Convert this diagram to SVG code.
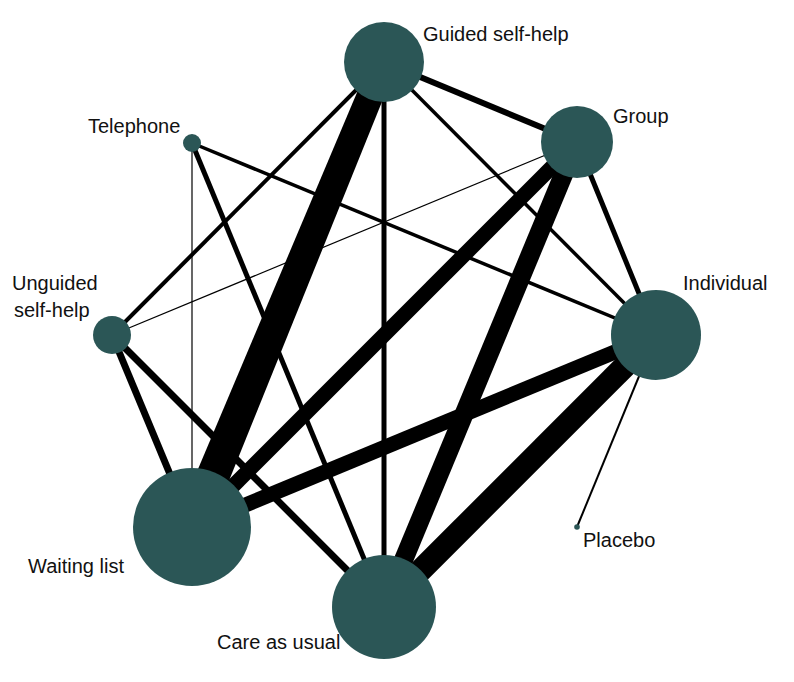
<svg xmlns="http://www.w3.org/2000/svg" width="794" height="682" viewBox="0 0 794 682">
<style>
.e{stroke:#000;stroke-linecap:butt;fill:none}
.n{fill:#2b5656}
.t{font-family:"Liberation Sans",Arial,sans-serif;font-size:20px;fill:#111}
</style>
<rect width="794" height="682" fill="#fff"/>
<g id="connectors">
<polygon points="396,67 372,57 176.3,520.5 207.7,533.5" fill="#000"/>
<line class="e" x1="384" y1="62" x2="384" y2="607" stroke-width="5"/>
<line class="e" x1="384" y1="62" x2="577" y2="142" stroke-width="6"/>
<line class="e" x1="384" y1="62" x2="656" y2="335" stroke-width="3.5"/>
<line class="e" x1="384" y1="62" x2="112" y2="335" stroke-width="4"/>
<line class="e" x1="577" y1="142" x2="192" y2="527" stroke-width="15"/>
<line class="e" x1="577" y1="142" x2="384" y2="607" stroke-width="19"/>
<line class="e" x1="577" y1="142" x2="656" y2="335" stroke-width="5"/>
<line class="e" x1="577" y1="142" x2="112" y2="335" stroke-width="1.2"/>
<line class="e" x1="656" y1="335" x2="192" y2="527" stroke-width="15"/>
<line class="e" x1="656" y1="335" x2="384" y2="607" stroke-width="23"/>
<line class="e" x1="656" y1="335" x2="192" y2="143" stroke-width="3.5"/>
<line class="e" x1="656" y1="335" x2="577" y2="527" stroke-width="2"/>
<line class="e" x1="192" y1="143" x2="192" y2="527" stroke-width="1.2"/>
<line class="e" x1="192" y1="143" x2="384" y2="607" stroke-width="5"/>
<line class="e" x1="112" y1="335" x2="192" y2="527" stroke-width="7"/>
<line class="e" x1="112" y1="335" x2="384" y2="607" stroke-width="7"/>
</g>
<g id="guided-self-help"><circle class="n" cx="384" cy="62" r="40"/><text class="t" x="423" y="41">Guided self-help</text></g>
<g id="group"><circle class="n" cx="577" cy="142" r="36"/><text class="t" x="613" y="123">Group</text></g>
<g id="individual"><circle class="n" cx="656" cy="335" r="45"/><text class="t" x="683" y="290">Individual</text></g>
<g id="placebo"><circle class="n" cx="577" cy="527" r="2.8"/><text class="t" x="583" y="547">Placebo</text></g>
<g id="care-as-usual"><circle class="n" cx="384" cy="607" r="52"/><text class="t" x="217" y="649">Care as usual</text></g>
<g id="waiting-list"><circle class="n" cx="192" cy="527" r="59"/><text class="t" x="28" y="573">Waiting list</text></g>
<g id="unguided-self-help"><circle class="n" cx="112" cy="335" r="19"/><text class="t" x="12" y="290">Unguided</text><text class="t" x="14" y="317">self-help</text></g>
<g id="telephone"><circle class="n" cx="192" cy="143" r="9"/><text class="t" x="88" y="133">Telephone</text></g>
</svg>
